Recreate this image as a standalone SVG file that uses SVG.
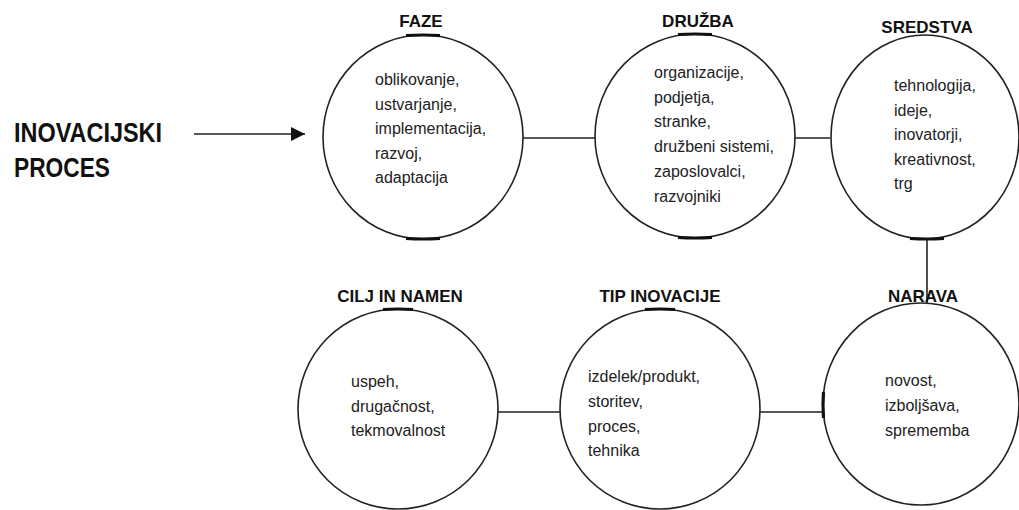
<svg xmlns="http://www.w3.org/2000/svg" width="1019" height="510" viewBox="0 0 1019 510">
<style>
.c{fill:none;stroke:#222;stroke-width:1.6}
.tk{fill:none;stroke:#111;stroke-width:3.2}
.ln{stroke:#222;stroke-width:1.6;fill:none}
.t{font-family:"Liberation Sans",Arial,sans-serif;font-weight:bold;font-size:17px;fill:#111;text-anchor:middle}
.b{font-family:"Liberation Sans",Arial,sans-serif;font-size:16px;fill:#222}
.m{font-family:"Liberation Sans",Arial,sans-serif;font-weight:bold;font-size:27px;fill:#111}
</style>
<defs>
<marker id="ah" viewBox="0 0 10 10" refX="10" refY="5" markerWidth="14" markerHeight="14" markerUnits="userSpaceOnUse" orient="auto">
<path d="M0,0 L10,5 L0,10 z" fill="#111"/>
</marker>
</defs>
<rect width="1019" height="510" fill="#fff"/>
<g id="start">
<text class="m" x="14" y="142" textLength="148" lengthAdjust="spacingAndGlyphs">INOVACIJSKI</text>
<text class="m" x="14" y="177" textLength="96" lengthAdjust="spacingAndGlyphs">PROCES</text>
</g>
<g id="connectors">
<line class="ln" x1="194" y1="134" x2="305" y2="134" marker-end="url(#ah)"/>
<line class="ln" x1="523" y1="138" x2="595" y2="138"/>
<line class="ln" x1="795" y1="138" x2="830" y2="138"/>
<line class="ln" x1="927" y1="240" x2="927" y2="304"/>
<line class="ln" x1="498" y1="412" x2="560" y2="412"/>
<line class="ln" x1="760" y1="412" x2="823" y2="412"/>
</g>
<g id="faze">
<ellipse class="c" cx="423" cy="137" rx="100" ry="102"/>
<path class="tk" d="M406,35.5 Q423,34.5 440,35.5 M406,238.5 Q423,239.5 440,238.5"/>
<text class="t" x="421" y="27">FAZE</text>
<text class="b" x="375"><tspan x="375" y="85">oblikovanje,</tspan><tspan x="375" y="109.5">ustvarjanje,</tspan><tspan x="375" y="134">implementacija,</tspan><tspan x="375" y="158.5">razvoj,</tspan><tspan x="375" y="183">adaptacija</tspan></text>
</g>
<g id="druzba">
<ellipse class="c" cx="695" cy="136" rx="100" ry="102"/>
<path class="tk" d="M678,34.5 Q695,33.5 712,34.5 M678,237.5 Q695,238.5 712,237.5"/>
<text class="t" x="698" y="27">DRUŽBA</text>
<text class="b"><tspan x="654" y="78">organizacije,</tspan><tspan x="654" y="102.5">podjetja,</tspan><tspan x="654" y="127">stranke,</tspan><tspan x="654" y="152">družbeni sistemi,</tspan><tspan x="654" y="177">zaposlovalci,</tspan><tspan x="654" y="202">razvojniki</tspan></text>
</g>
<g id="sredstva">
<ellipse class="c" cx="925" cy="137" rx="94" ry="102"/>
<path class="tk" d="M910,238.5 Q927,239.5 944,238.5"/>
<text class="t" x="927" y="33">SREDSTVA</text>
<text class="b"><tspan x="894" y="91">tehnologija,</tspan><tspan x="894" y="115.5">ideje,</tspan><tspan x="894" y="140">inovatorji,</tspan><tspan x="894" y="165">kreativnost,</tspan><tspan x="894" y="189">trg</tspan></text>
</g>
<g id="narava">
<ellipse class="c" cx="921" cy="404" rx="98" ry="101"/>
<path class="tk" d="M823.5,392 Q822.5,404 823.5,418"/>
<text class="t" x="923" y="302">NARAVA</text>
<text class="b"><tspan x="885" y="386">novost,</tspan><tspan x="885" y="411">izboljšava,</tspan><tspan x="885" y="435.5">sprememba</tspan></text>
</g>
<g id="tip">
<ellipse class="c" cx="660" cy="409" rx="100" ry="100"/>
<path class="tk" d="M645,309.5 Q660,308.5 675,309.5"/>
<text class="t" x="660" y="302">TIP INOVACIJE</text>
<text class="b"><tspan x="588" y="382">izdelek/produkt,</tspan><tspan x="588" y="407">storitev,</tspan><tspan x="588" y="431.5">proces,</tspan><tspan x="588" y="456">tehnika</tspan></text>
</g>
<g id="cilj">
<ellipse class="c" cx="398" cy="409" rx="100" ry="100"/>
<path class="tk" d="M383,309.5 Q398,308.5 413,309.5"/>
<text class="t" x="400" y="302">CILJ IN NAMEN</text>
<text class="b"><tspan x="351" y="387">uspeh,</tspan><tspan x="351" y="412">drugačnost,</tspan><tspan x="351" y="436">tekmovalnost</tspan></text>
</g>
</svg>
